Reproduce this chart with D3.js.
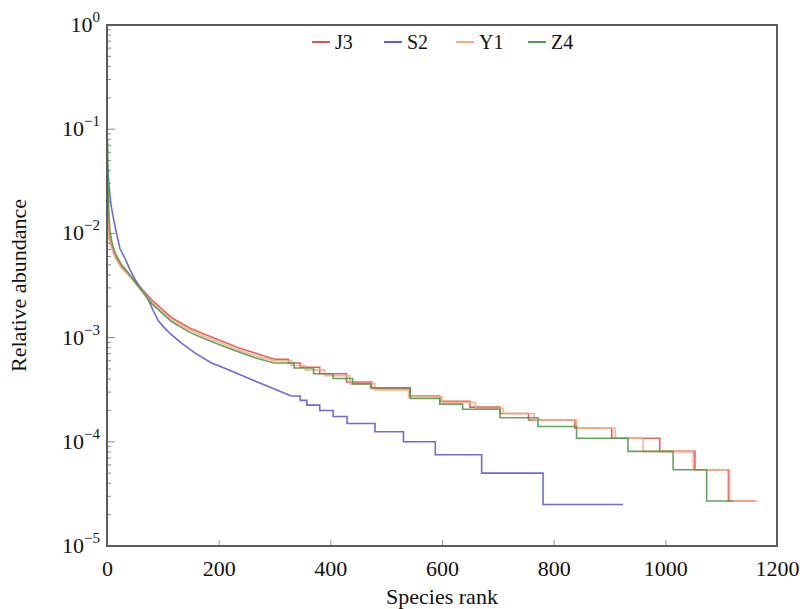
<!DOCTYPE html>
<html>
  <head>
    <meta charset="utf-8">
    <title>Rank abundance</title>
    <script type="text/javascript" src="https://d3js.org/d3.v7.min.js"></script>
    <style>
      body { margin: 0; background: #fff; }
      text { font-family: "Liberation Serif", "Times New Roman", serif; fill: #111; }
    </style>
  </head>
  <body>
    <svg width="800" height="609"></svg>
    <script>
      // series names and colours
      var names = ["J3", "S2", "Y1", "Z4"];
      var colors = ["#e84c4c", "#5b5bdc", "#f5ad80", "#4f9a4f"];

      // smooth head of each curve: [rank, relative abundance]
      var j3Head = [[1,0.035],[2,0.013],[3,0.0098],[5,0.0086],[8,0.0076],[14,0.0061],[25,0.0049],[38,0.0041],[56,0.0032],[80,0.0023],[116,0.00155],[150,0.00122],[176,0.00107],[205,9.3e-4],[235,8.0e-4],[265,7.1e-4],[300,6.2e-4]];
      var y1Head = [[1,0.03],[2,0.012],[3,0.0093],[5,0.0082],[8,0.0073],[14,0.0059],[25,0.0047],[38,0.0040],[56,0.0031],[80,0.00218],[116,0.00148],[150,0.00117],[176,0.00102],[205,8.8e-4],[235,7.6e-4],[265,6.7e-4],[300,6.0e-4]];
      var z4Head = [[1,0.08],[2,0.03],[3,0.018],[5,0.011],[8,0.0086],[14,0.0066],[25,0.0051],[38,0.0042],[56,0.0031],[80,0.00212],[116,0.00142],[150,0.00111],[176,9.7e-4],[205,8.4e-4],[235,7.3e-4],[265,6.4e-4],[300,5.7e-4]];
      var s2Head = [[1,0.045],[2,0.038],[4,0.027],[7,0.019],[11,0.0144],[17,0.010],[23,0.0072],[32,0.0058],[41,0.0045],[53,0.0034],[71,0.0025],[83,0.0018],[92,0.00145],[104,0.00122],[116,0.00106],[134,8.8e-4],[158,7.1e-4],[187,5.7e-4],[211,5.07e-4],[247,4.2e-4],[289,3.4e-4],[330,2.75e-4]];

      // stepped tail: [rank where level starts, level]; last entry is the end
      var j3Tail = [[300,6.2e-4],[325,5.7e-4],[346,5.2e-4],[381,4.5e-4],[429,3.75e-4],[474,3.25e-4],[543,2.75e-4],[596,2.45e-4],[650,2.15e-4],[704,1.87e-4],[755,1.62e-4],[838,1.35e-4],[904,1.08e-4],[990,8.1e-5],[1053,5.4e-5],[1113,2.7e-5],[1160,2.7e-5]];
      var y1Tail = [[300,6.0e-4],[330,5.4e-4],[355,4.9e-4],[390,4.3e-4],[435,3.6e-4],[480,3.15e-4],[540,2.7e-4],[600,2.4e-4],[660,2.1e-4],[710,1.87e-4],[765,1.62e-4],[841,1.35e-4],[910,1.08e-4],[960,8.1e-5],[1050,5.4e-5],[1115,2.7e-5],[1166,2.7e-5]];
      var z4Tail = [[300,5.7e-4],[335,5.1e-4],[370,4.5e-4],[405,4.05e-4],[440,3.6e-4],[472,3.3e-4],[543,2.6e-4],[596,2.3e-4],[637,2.05e-4],[704,1.7e-4],[772,1.4e-4],[841,1.08e-4],[933,8.1e-5],[1014,5.4e-5],[1074,2.7e-5],[1120,2.7e-5]];
      var s2Tail = [[330,2.75e-4],[346,2.5e-4],[358,2.25e-4],[381,2.0e-4],[405,1.75e-4],[430,1.5e-4],[480,1.25e-4],[531,1.0e-4],[588,7.5e-5],[671,5.0e-5],[781,2.5e-5],[924,2.5e-5]];

      var xTicks = [0, 200, 400, 600, 800, 1000, 1200];
      var yDecades = [1e-5, 1e-4, 1e-3, 1e-2, 1e-1, 1];
      var yExps = ["\u22125", "\u22124", "\u22123", "\u22122", "\u22121", "0"];

      var heads = [j3Head, s2Head, y1Head, z4Head];
      var tails = [j3Tail, s2Tail, y1Tail, z4Tail];

      var svg = d3.select("svg");
      var mLeft = 107, mRight = 777, mTop = 25, mBottom = 546;

      var x = d3.scaleLinear().domain([0, 1200]).range([mLeft, mRight]);
      var y = d3.scaleLog().domain([1e-5, 1]).range([mBottom, mTop]);

      // minor + major ticks on the left, inside
      var minor = [];
      yDecades.slice(0, 5).forEach(function(d){
        for (var k = 1; k < 10; k++) minor.push(d * k);
      });
      minor.push(1);
      svg.append("g").selectAll("line")
        .data(minor)
        .enter()
        .append("line")
        .attr("x1", mLeft)
        .attr("x2", function(d){
          var isMajor = Math.abs(Math.log10(d) - Math.round(Math.log10(d))) < 1e-9;
          return mLeft + (isMajor ? 8 : 4);
        })
        .attr("y1", function(d){ return y(d); })
        .attr("y2", function(d){ return y(d); })
        .attr("stroke", "#888")
        .attr("stroke-width", 1);

      // x ticks inside bottom
      var xAxis = d3.axisBottom(x)
        .tickValues(xTicks)
        .tickFormat(d3.format("d"))
        .tickSizeInner(-6)
        .tickSizeOuter(0)
        .tickPadding(14);
      var gx = svg.append("g").attr("transform", "translate(0," + mBottom + ")").call(xAxis);
      gx.select(".domain").remove();
      gx.selectAll(".tick line").attr("stroke", "#999");
      gx.selectAll(".tick text")
        .attr("font-size", 22)
        .attr("font-family", "Liberation Serif, serif")
        .attr("fill", "#111");

      // y tick labels 10^n
      var yl = svg.append("g").selectAll("text")
        .data(yDecades)
        .enter()
        .append("text")
        .attr("x", 100)
        .attr("y", function(d){ return y(d) + 7; })
        .attr("text-anchor", "end")
        .attr("font-size", 22);
      yl.append("tspan").text("10");
      yl.append("tspan")
        .attr("dy", -10)
        .attr("font-size", 15)
        .text(function(d, i){ return yExps[i]; });

      // curves
      var line = d3.line()
        .x(function(d){ return x(d[0]); })
        .y(function(d){ return y(d[1]); });
      var stepLine = d3.line()
        .x(function(d){ return x(d[0]); })
        .y(function(d){ return y(d[1]); })
        .curve(d3.curveStepAfter);

      var plot = svg.append("g");
      names.forEach(function(n, i){
        plot.append("path")
          .attr("d", line(heads[i]))
          .attr("fill", "none")
          .attr("stroke", colors[i])
          .attr("stroke-width", 1.6)
          .attr("stroke-opacity", 0.9);
        plot.append("path")
          .attr("d", stepLine(tails[i]))
          .attr("fill", "none")
          .attr("stroke", colors[i])
          .attr("stroke-width", 1.6)
          .attr("stroke-opacity", 0.9);
      });

      // frame
      svg.append("rect")
        .attr("x", mLeft)
        .attr("y", mTop)
        .attr("width", mRight - mLeft)
        .attr("height", mBottom - mTop)
        .attr("fill", "none")
        .attr("stroke", "#5c5c5c")
        .attr("stroke-width", 2);

      // legend
      var lg = svg.append("g").selectAll("g")
        .data(names)
        .enter()
        .append("g")
        .attr("transform", function(d, i){ return "translate(" + (312 + i * 72) + ",42)"; });
      lg.append("line")
        .attr("x1", 0).attr("x2", 18)
        .attr("y1", 0).attr("y2", 0)
        .attr("stroke", function(d, i){ return colors[i]; })
        .attr("stroke-width", 2);
      lg.append("text")
        .attr("x", 23)
        .attr("y", 7)
        .attr("font-size", 20)
        .text(function(d){ return d; });

      // axis titles
      svg.append("text")
        .attr("x", (mLeft + mRight) / 2)
        .attr("y", 604)
        .attr("text-anchor", "middle")
        .attr("font-size", 22)
        .text("Species rank");
      svg.append("text")
        .attr("transform", "translate(26," + ((mTop + mBottom) / 2) + ") rotate(-90)")
        .attr("text-anchor", "middle")
        .attr("font-size", 22)
        .text("Relative abundance");
    </script>
  </body>
</html>
